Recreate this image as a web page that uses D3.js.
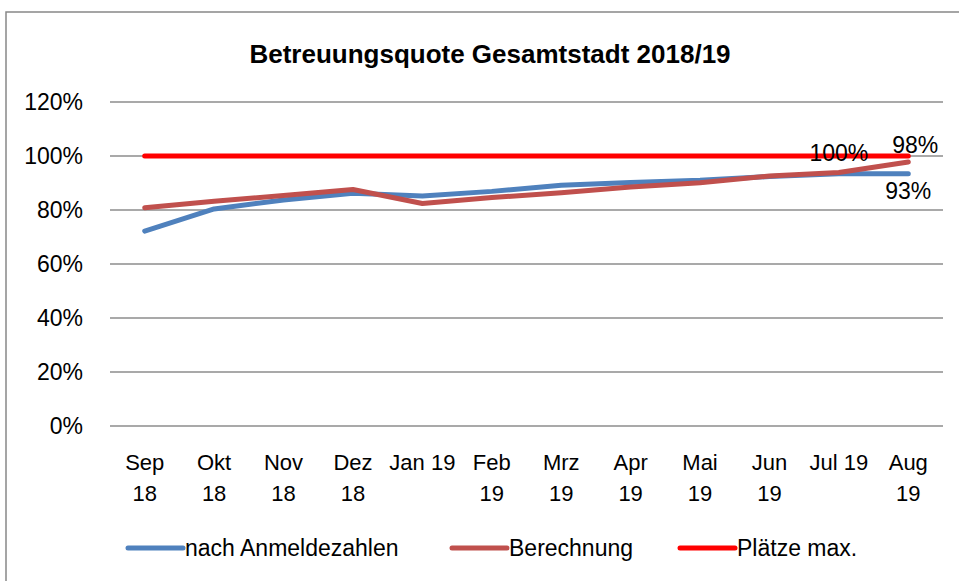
<!DOCTYPE html>
<html>
<head>
<meta charset="utf-8">
<script src="https://cdn.jsdelivr.net/npm/d3@7"></script>
<style>
  body { margin: 0; background: #fff; }
  text { font-family: "Liberation Sans", Arial, sans-serif; fill: #000; }
</style>
</head>
<body>
<script>
// Chart data
const months = ["Sep 18", "Okt 18", "Nov 18", "Dez 18", "Jan 19", "Feb 19",
  "Mrz 19", "Apr 19", "Mai 19", "Jun 19", "Jul 19", "Aug 19"];
// how each tick label wraps onto two lines
const monthLines = [["Sep", "18"], ["Okt", "18"], ["Nov", "18"], ["Dez", "18"],
  ["Jan 19"], ["Feb", "19"], ["Mrz", "19"], ["Apr", "19"], ["Mai", "19"],
  ["Jun", "19"], ["Jul 19"], ["Aug", "19"]];
const anmeldung = [72.2, 80.4, 83.7, 86.2, 85.2, 86.9, 89.2, 90.2, 91.0, 92.4, 93.4, 93.4];
const berechnung = [80.8, 83.2, 85.4, 87.6, 82.4, 84.6, 86.4, 88.5, 90.1, 92.6, 93.9, 97.8];
const plaetze = [100, 100, 100, 100, 100, 100, 100, 100, 100, 100, 100, 100];
const yTicks = [0, 20, 40, 60, 80, 100, 120];

const seriesList = [
  { name: "nach Anmeldezahlen", values: anmeldung, color: "#4F81BD" },
  { name: "Berechnung", values: berechnung, color: "#C0504D" },
  { name: "Plätze max.", values: plaetze, color: "#FF0000" },
];

const width = 959;
const height = 581;
const plot = { left: 110, right: 943, top: 102, bottom: 426 };

const svg = d3.select("body").append("svg")
  .attr("width", width)
  .attr("height", height);

// outer frame
svg.append("rect")
  .attr("x", 6).attr("y", 12)
  .attr("width", width + 20).attr("height", height + 20)
  .attr("fill", "#fff")
  .attr("stroke", "#888")
  .attr("stroke-width", 1.5);

// title
svg.append("text")
  .attr("x", 490).attr("y", 63)
  .attr("text-anchor", "middle")
  .style("font-size", "26px")
  .style("font-weight", "bold")
  .text("Betreuungsquote Gesamtstadt 2018/19");

const x = d3.scaleBand().domain(months).range([plot.left, plot.right]);
const y = d3.scaleLinear().domain([0, 120]).range([plot.bottom, plot.top]);
const cx = (m) => x(m) + x.bandwidth() / 2;

// gridlines
svg.append("g").selectAll("line")
  .data(yTicks)
  .enter().append("line")
  .attr("x1", plot.left).attr("x2", plot.right)
  .attr("y1", (d) => y(d)).attr("y2", (d) => y(d))
  .attr("stroke", "#8c8c8c")
  .attr("stroke-width", 1.5);

// y labels
svg.append("g").selectAll("text")
  .data(yTicks)
  .enter().append("text")
  .attr("x", 83)
  .attr("y", (d) => y(d) + 8)
  .attr("text-anchor", "end")
  .style("font-size", "23px")
  .text((d) => d + "%");

// x labels
const xl = svg.append("g").selectAll("text")
  .data(months)
  .enter().append("text")
  .attr("text-anchor", "middle")
  .style("font-size", "22px");
xl.selectAll("tspan")
  .data((d, i) => monthLines[i].map((t) => ({ t, m: d })))
  .enter().append("tspan")
  .attr("x", (d) => cx(d.m))
  .attr("y", (d, i) => 470 + i * 31)
  .text((d) => d.t);

// lines
const line = d3.line()
  .x((d, i) => cx(months[i]))
  .y((d) => y(d));

svg.append("g").selectAll("path")
  .data(seriesList)
  .enter().append("path")
  .attr("d", (d) => line(d.values))
  .attr("fill", "none")
  .attr("stroke", (d) => d.color)
  .attr("stroke-width", 5)
  .attr("stroke-linecap", "round")
  .attr("stroke-linejoin", "round");

// data labels
const last = months.length - 1;
svg.append("text")
  .attr("x", cx(months[last - 1]))
  .attr("y", y(plaetze[last - 1]) + 5)
  .attr("text-anchor", "middle")
  .style("font-size", "23px")
  .text(plaetze[last - 1] + "%");
svg.append("text")
  .attr("x", cx(months[last]) + 7)
  .attr("y", y(berechnung[last]) - 9)
  .attr("text-anchor", "middle")
  .style("font-size", "23px")
  .text(Math.round(berechnung[last]) + "%");
svg.append("text")
  .attr("x", cx(months[last]))
  .attr("y", y(anmeldung[last]) + 25)
  .attr("text-anchor", "middle")
  .style("font-size", "23px")
  .text(Math.round(anmeldung[last]) + "%");

// legend
const legendX = [128, 452, 680];
const lg = svg.append("g").selectAll("g")
  .data(seriesList)
  .enter().append("g")
  .attr("transform", (d, i) => `translate(${legendX[i]}, 548)`);
lg.append("line")
  .attr("x1", 0).attr("x2", 55)
  .attr("stroke", (d) => d.color)
  .attr("stroke-width", 5)
  .attr("stroke-linecap", "round");
lg.append("text")
  .attr("x", 57).attr("y", 8)
  .style("font-size", "23px")
  .text((d) => d.name);
</script>
</body>
</html>
